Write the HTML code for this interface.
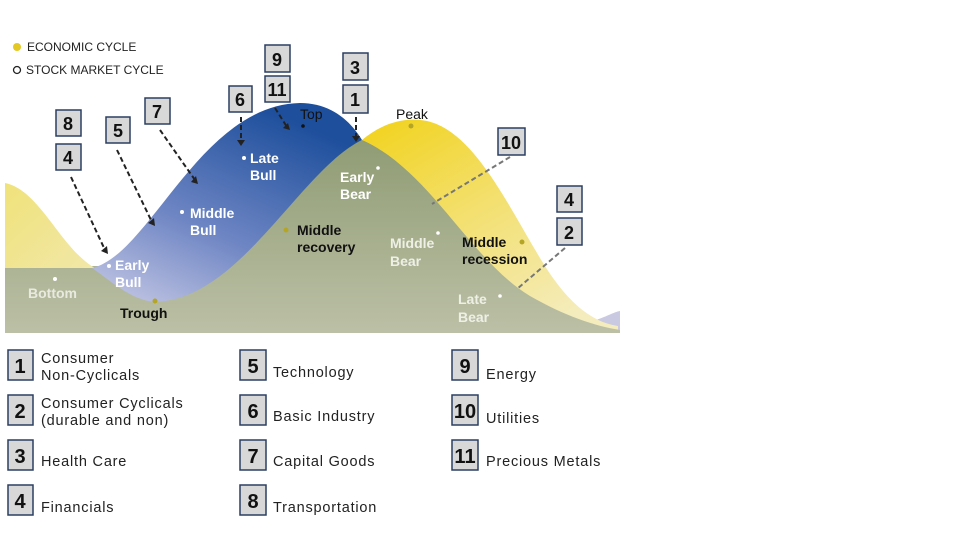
<!DOCTYPE html>
<html><head><meta charset="utf-8"><style>
html,body{margin:0;padding:0;background:#fff;}
svg{display:block;font-family:"Liberation Sans",Arial,sans-serif;}
</style></head><body>
<svg width="980" height="555" viewBox="0 0 980 555" xmlns="http://www.w3.org/2000/svg">
<defs>
<linearGradient id="blue" x1="0" y1="1" x2="0.6" y2="0">
<stop offset="0" stop-color="#c9cbe6"/><stop offset="0.45" stop-color="#6f86c4"/><stop offset="1" stop-color="#1e4f9c"/>
</linearGradient>
<linearGradient id="yel" x1="0" y1="0" x2="0.7" y2="1">
<stop offset="0" stop-color="#f2d21a"/><stop offset="0.5" stop-color="#f3e070"/><stop offset="1" stop-color="#f4ecbc"/>
</linearGradient>
<linearGradient id="yl" x1="0" y1="0" x2="1" y2="1">
<stop offset="0" stop-color="#f0e27a"/><stop offset="1" stop-color="#f1e7a8"/>
</linearGradient>
<linearGradient id="grn" gradientUnits="userSpaceOnUse" x1="0" y1="140" x2="0" y2="333">
<stop offset="0" stop-color="#8f9c74"/><stop offset="1" stop-color="#bcc0a6"/>
</linearGradient>
</defs>
<!-- ground -->
<rect x="5" y="266" width="200" height="67" fill="url(#grn)"/>
<path d="M596,320 C608,316 614,312 620,311 L620,333 L596,333Z" fill="#c9c9e2"/>
<!-- left yellow -->
<path d="M5,183 C40,190 60,248 95,268 L5,268 Z" fill="url(#yl)"/>
<!-- right yellow -->
<path d="M362,140 C380,125 400,118 420,120 C470,124 505,200 540,258 C565,300 590,322 618,326 L618,333 L540,333 Z" fill="url(#yel)"/>
<!-- blue -->
<path d="M92,268 C150,255 200,105 300,103 C330,103 350,120 362,140 C310,170 240,300 155,302 C130,300 110,280 92,268 Z" fill="url(#blue)"/>
<!-- green hill -->
<path d="M155,302 C240,300 300,170 362,140 C430,170 470,260 530,296 C565,316 595,326 620,330 L620,333 L5,333 L5,300 C60,300 110,302 155,302 Z" fill="url(#grn)"/>
<!-- legend top -->
<circle cx="17" cy="47" r="4" fill="#e4c824"/>
<text x="27" y="51" font-size="12" fill="#222">ECONOMIC CYCLE</text>
<circle cx="17" cy="70" r="3.5" fill="none" stroke="#222" stroke-width="1.3"/>
<text x="26" y="74" font-size="12" fill="#222">STOCK MARKET CYCLE</text>
<!-- dashed arrows -->
<g stroke="#222" stroke-width="2" stroke-dasharray="5,3" fill="none">
<line x1="71" y1="177" x2="105" y2="250"/>
<line x1="117" y1="150" x2="152" y2="222"/>
<line x1="160" y1="130" x2="195" y2="180"/>
<line x1="241" y1="117" x2="241" y2="140"/>
<line x1="275" y1="108" x2="287" y2="127"/>
<line x1="356" y1="117" x2="356" y2="136"/>
</g>
<g fill="#222">
<polygon points="101,251 108,254 107,246"/>
<polygon points="148,223 155,226 154,218"/>
<polygon points="191,182 198,184 196,176"/>
<polygon points="237,140 245,140 241,146"/>
<polygon points="283,128 290,130 288,123"/>
<polygon points="352,136 360,136 356,142"/>
</g>
<g stroke="#777" stroke-width="2" stroke-dasharray="5,3" fill="none">
<line x1="510" y1="157" x2="432" y2="204"/>
<line x1="565" y1="248" x2="517" y2="289"/>
</g>
<!-- number boxes -->
<g font-weight="bold" font-size="18" text-anchor="middle" fill="#111">
<g stroke="#2b3f62" stroke-width="1.5" fill="#d8d8d8">
<rect x="265" y="45" width="25" height="27"/><rect x="265" y="76" width="25" height="26"/>
<rect x="229" y="86" width="23" height="26"/><rect x="145" y="98" width="25" height="26"/>
<rect x="106" y="117" width="24" height="26"/><rect x="56" y="110" width="25" height="26"/>
<rect x="56" y="144" width="25" height="26"/><rect x="343" y="53" width="25" height="27"/>
<rect x="343" y="85" width="25" height="28"/><rect x="498" y="128" width="27" height="27"/>
<rect x="557" y="186" width="25" height="26"/><rect x="557" y="218" width="25" height="27"/>
</g>
<text x="277" y="66">9</text><text x="277" y="96">11</text><text x="240" y="106">6</text>
<text x="157" y="118">7</text><text x="118" y="137">5</text><text x="68" y="130">8</text>
<text x="68" y="164">4</text><text x="355" y="74">3</text><text x="355" y="106">1</text>
<text x="511" y="149">10</text><text x="569" y="206">4</text><text x="569" y="239">2</text>
</g>
<!-- chart labels -->
<g font-size="14" font-weight="bold">
<g fill="#fff">
<circle cx="109" cy="266" r="2"/><text x="115" y="270">Early</text><text x="115" y="287">Bull</text>
<circle cx="182" cy="212" r="2"/><text x="190" y="218">Middle</text><text x="190" y="235">Bull</text>
<circle cx="244" cy="158" r="2"/><text x="250" y="163">Late</text><text x="250" y="180">Bull</text>
<circle cx="55" cy="279" r="2"/><text x="28" y="298" fill="#e8eae0">Bottom</text>
<text x="340" y="182">Early</text><text x="340" y="199">Bear</text><circle cx="378" cy="168" r="1.8"/>
<text x="390" y="248" fill="#eef0e6">Middle</text><text x="390" y="266" fill="#eef0e6">Bear</text><circle cx="438" cy="233" r="1.8"/>
<text x="458" y="304" fill="#eef0e6">Late</text><text x="458" y="322" fill="#eef0e6">Bear</text><circle cx="500" cy="296" r="1.8"/>
</g>
<g fill="#111">
<text x="120" y="318">Trough</text><circle cx="155" cy="301" r="2.5" fill="#b5a526"/>
<text x="297" y="235">Middle</text><text x="297" y="252">recovery</text><circle cx="286" cy="230" r="2.5" fill="#b5a526"/>
<text x="462" y="247">Middle</text><text x="462" y="264">recession</text><circle cx="522" cy="242" r="2.5" fill="#b5a526"/>
<text x="300" y="119" font-weight="normal" font-size="14">Top</text><circle cx="303" cy="126" r="1.8"/>
<text x="396" y="119" font-weight="normal" font-size="14">Peak</text><circle cx="411" cy="126" r="2.5" fill="#b5a526"/>
</g>
</g>
<!-- bottom legend -->
<g stroke="#2b3f62" stroke-width="1.5" fill="#d8d8d8">
<rect x="8" y="350" width="25" height="30"/><rect x="8" y="395" width="25" height="30"/>
<rect x="8" y="440" width="25" height="30"/><rect x="8" y="485" width="25" height="30"/>
<rect x="240" y="350" width="26" height="30"/><rect x="240" y="395" width="26" height="30"/>
<rect x="240" y="440" width="26" height="30"/><rect x="240" y="485" width="26" height="30"/>
<rect x="452" y="350" width="26" height="30"/><rect x="452" y="395" width="26" height="30"/>
<rect x="452" y="440" width="26" height="30"/>
</g>
<g font-weight="bold" font-size="20" text-anchor="middle" fill="#111">
<text x="20" y="373">1</text><text x="20" y="418">2</text><text x="20" y="463">3</text><text x="20" y="508">4</text>
<text x="253" y="373">5</text><text x="253" y="418">6</text><text x="253" y="463">7</text><text x="253" y="508">8</text>
<text x="465" y="373">9</text><text x="465" y="418">10</text><text x="465" y="463">11</text>
</g>
<g font-size="14.5" fill="#222" letter-spacing="0.8">
<text x="41" y="363">Consumer</text><text x="41" y="380">Non-Cyclicals</text>
<text x="41" y="408">Consumer Cyclicals</text><text x="41" y="425">(durable and non)</text>
<text x="41" y="466">Health Care</text><text x="41" y="512">Financials</text>
<text x="273" y="377">Technology</text><text x="273" y="421">Basic Industry</text>
<text x="273" y="466">Capital Goods</text><text x="273" y="512">Transportation</text>
<text x="486" y="379">Energy</text><text x="486" y="423">Utilities</text><text x="486" y="466">Precious Metals</text>
</g>
</svg>
</body></html>
